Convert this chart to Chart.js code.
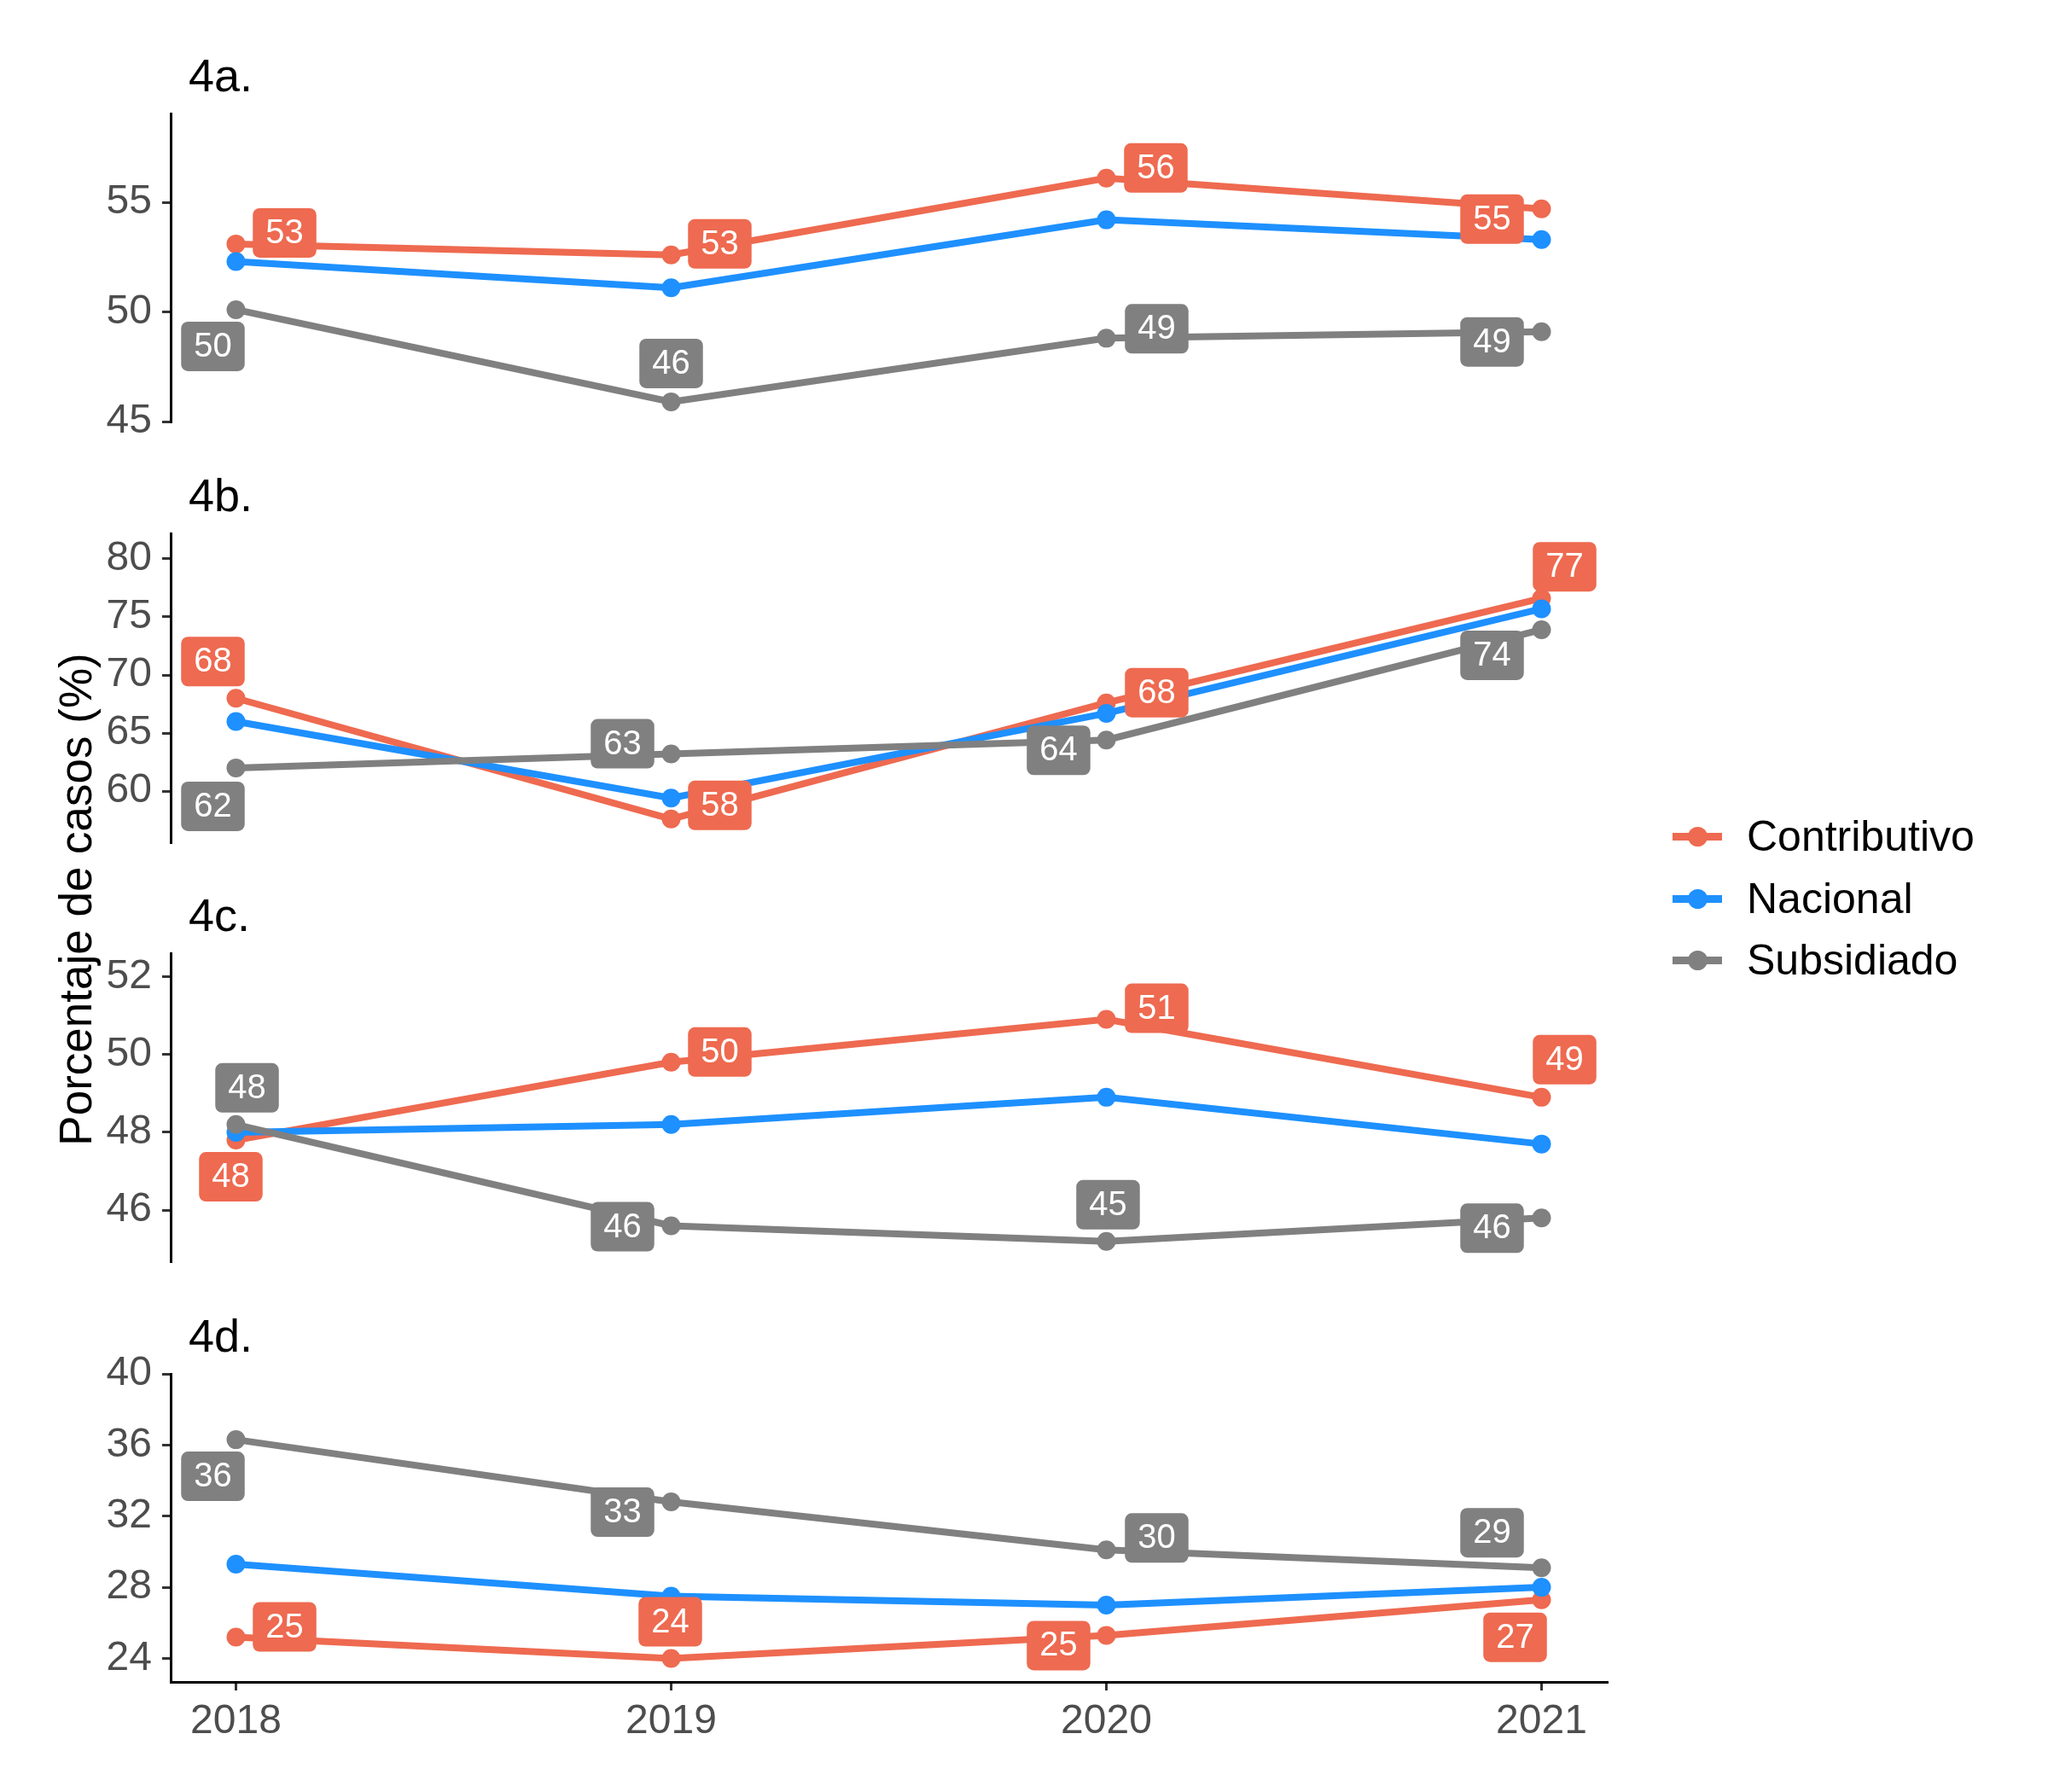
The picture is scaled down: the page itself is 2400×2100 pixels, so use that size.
<!DOCTYPE html>
<html>
<head>
<meta charset="utf-8">
<script src="https://cdn.jsdelivr.net/npm/chart.js@4.4.1/dist/chart.umd.min.js"></script>
<style>
  html, body { margin: 0; padding: 0; background: #fff; }
  #page { position: relative; width: 2400px; height: 2100px; overflow: hidden;
          font-family: "Liberation Sans", Arial, sans-serif; }
  canvas.panel { position: absolute; left: 0; }
  #ytitle { position: absolute; left: 88px; top: 1054px; font-size: 53px; line-height: 1;
            white-space: nowrap; color: #000;
            transform: translate(-50%, -50%) rotate(-90deg); }
  .key-line { position: absolute; width: 58px; height: 9px; }
  .key-dot { position: absolute; width: 23px; height: 23px; border-radius: 50%; }
  .key-text { position: absolute; font-size: 50px; line-height: 60px; color: #000; white-space: nowrap; }
</style>
</head>
<body>
<div id="page">
  <div id="ytitle">Porcentaje de casos (%)</div>
</div>
<script>
// --- data ---
const years = [2018, 2019, 2020, 2021];
const seriesNames = ['Contributivo', 'Nacional', 'Subsidiado'];
const panelTitles = ['4a.', '4b.', '4c.', '4d.'];

const contribA = [53.1, 52.6, 56.1, 54.7];
const nacionalA = [52.3, 51.1, 54.2, 53.3];
const subsidA = [50.1, 45.9, 48.8, 49.1];

const contribB = [68.0, 57.6, 67.6, 76.6];
const nacionalB = [66.0, 59.4, 66.7, 75.7];
const subsidB = [62.0, 63.2, 64.4, 73.9];

const contribC = [47.8, 49.8, 50.9, 48.9];
const nacionalC = [48.0, 48.2, 48.9, 47.7];
const subsidC = [48.2, 45.6, 45.2, 45.8];

const contribD = [25.2, 24.0, 25.3, 27.3];
const nacionalD = [29.3, 27.5, 27.0, 28.0];
const subsidD = [36.3, 32.8, 30.1, 29.1];

const ticksA = [45, 50, 55];
const ticksB = [60, 65, 70, 75, 80];
const ticksC = [46, 48, 50, 52];
const ticksD = [24, 28, 32, 36, 40];

// --- look ---
const COLORS = ['#EE6A50', '#1E90FF', '#808080'];
Chart.defaults.font.family = '"Liberation Sans", Arial, sans-serif';

// panel geometry: pixel top/bottom of each y axis, and value range shown
const panels = [
  { title: panelTitles[0], top: 133, bottom: 494, min: 45, max: 59.05, ticks: ticksA,
    values: [contribA, nacionalA, subsidA] },
  { title: panelTitles[1], top: 625, bottom: 987, min: 55.6, max: 82.2, ticks: ticksB,
    values: [contribB, nacionalB, subsidB] },
  { title: panelTitles[2], top: 1117, bottom: 1478, min: 44.69, max: 52.6, ticks: ticksC,
    values: [contribC, nacionalC, subsidC] },
  { title: panelTitles[3], top: 1610, bottom: 1971, min: 22.68, max: 40, ticks: ticksD,
    values: [contribD, nacionalD, subsidD] }
];

// where each value label sits relative to its point (px), null = no labels
const labelShifts = [
  [[[57, -13], [57, -13], [58, -12], [-58, 12]], null,
   [[-27, 43], [0, -45], [59, -11], [-58, 12]]],
  [[[-27, -43], [57, -16], [59, -12], [27, -37]], null,
   [[-27, 45], [-57, -12], [-56, 12], [-58, 30]]],
  [[[-6, 43], [57, -12], [59, -13], [27, -44]], null,
   [[13, -43], [-57, 1], [2, -43], [-58, 12]]],
  [[[57, -12], [-1, -43], [-56, 12], [-31, 44]], null,
   [[-27, 43], [-57, 12], [59, -14], [-58, -41]]]
];

function roundRect(ctx, x, y, w, h, r) {
  ctx.beginPath();
  ctx.moveTo(x + r, y);
  ctx.arcTo(x + w, y, x + w, y + h, r);
  ctx.arcTo(x + w, y + h, x, y + h, r);
  ctx.arcTo(x, y + h, x, y, r);
  ctx.arcTo(x, y, x + w, y, r);
  ctx.closePath();
}

const labelPlugin = {
  id: 'repelLabels',
  afterDatasetsDraw(chart, args, opts) {
    const ctx = chart.ctx;
    ctx.save();
    opts.shifts.forEach((shift, si) => {
      if (!shift) return;
      const ds = chart.data.datasets[si];
      chart.getDatasetMeta(si).data.forEach((pt, i) => {
        const cx = pt.x + shift[i][0];
        const cy = pt.y + shift[i][1];
        const txt = String(Math.round(ds.data[i].y));
        ctx.font = '40px "Liberation Sans", Arial, sans-serif';
        const w = ctx.measureText(txt).width + 30;
        const h = 58;
        ctx.fillStyle = ds.borderColor;
        roundRect(ctx, cx - w / 2, cy - h / 2, w, h, 8);
        ctx.fill();
        ctx.fillStyle = '#fff';
        ctx.textAlign = 'center';
        ctx.textBaseline = 'middle';
        ctx.fillText(txt, cx, cy + 1);
      });
    });
    ctx.fillStyle = '#000';
    ctx.font = '54px "Liberation Sans", Arial, sans-serif';
    ctx.textAlign = 'left';
    ctx.textBaseline = 'alphabetic';
    ctx.fillText(opts.title, 221, chart.chartArea.top - 26);
    ctx.restore();
  }
};

const page = document.getElementById('page');

panels.forEach((p, pi) => {
  const showX = pi === panels.length - 1;
  const padTop = 80, padBottom = showX ? 10 : 50, xHeight = showX ? 100 : 0;
  const canvas = document.createElement('canvas');
  canvas.className = 'panel';
  canvas.width = 1950;
  canvas.height = padTop + (p.bottom - p.top) + xHeight + padBottom;
  canvas.style.top = (p.top - padTop) + 'px';
  page.appendChild(canvas);

  const axisTicks = { color: '#4D4D4D', font: { size: 48 }, padding: 12, autoSkip: false };
  const axisGrid = { drawOnChartArea: false, drawTicks: true, tickLength: 10, color: '#333333', lineWidth: 3 };
  const axisBorder = { display: true, color: '#000', width: 3 };

  new Chart(canvas, {
    type: 'line',
    data: {
      datasets: seriesNames.map((name, si) => ({
        label: name,
        data: years.map((x, i) => ({ x: x, y: p.values[si][i] })),
        borderColor: COLORS[si],
        backgroundColor: COLORS[si],
        order: 3 - si
      }))
    },
    options: {
      responsive: false,
      animation: false,
      devicePixelRatio: 1,
      layout: { padding: { top: padTop, bottom: padBottom, left: 0, right: 67 } },
      elements: {
        line: { borderWidth: 8, tension: 0 },
        point: { radius: 11, hoverRadius: 11, borderWidth: 0 }
      },
      plugins: {
        legend: { display: false },
        tooltip: { enabled: false },
        repelLabels: { shifts: labelShifts[pi], title: p.title }
      },
      events: [],
      scales: {
        x: {
          type: 'linear', min: 2017.85, max: 2021.15, display: showX,
          afterBuildTicks: s => { s.ticks = years.map(v => ({ value: v })); },
          afterFit: s => { s.height = xHeight; },
          ticks: Object.assign({}, axisTicks, { padding: 8, maxRotation: 0, callback: v => String(v) }),
          grid: axisGrid,
          border: axisBorder
        },
        y: {
          min: p.min, max: p.max,
          afterBuildTicks: s => { s.ticks = p.ticks.map(v => ({ value: v })); },
          afterFit: s => { s.width = 200; },
          ticks: Object.assign({}, axisTicks, { callback: v => String(v) }),
          grid: axisGrid,
          border: axisBorder
        }
      }
    },
    plugins: [labelPlugin]
  });
});

// legend
const legendRows = [980, 1053, 1125];
seriesNames.forEach((name, si) => {
  const cy = legendRows[si];
  const line = document.createElement('div');
  line.className = 'key-line';
  line.style.cssText = `left:1960px;top:${cy - 4.5}px;background:${COLORS[si]}`;
  const dot = document.createElement('div');
  dot.className = 'key-dot';
  dot.style.cssText = `left:${1989 - 11.5}px;top:${cy - 11.5}px;background:${COLORS[si]}`;
  const text = document.createElement('div');
  text.className = 'key-text';
  text.style.cssText = `left:2047px;top:${cy - 30}px`;
  text.textContent = name;
  page.appendChild(line);
  page.appendChild(dot);
  page.appendChild(text);
});
</script>
</body>
</html>
